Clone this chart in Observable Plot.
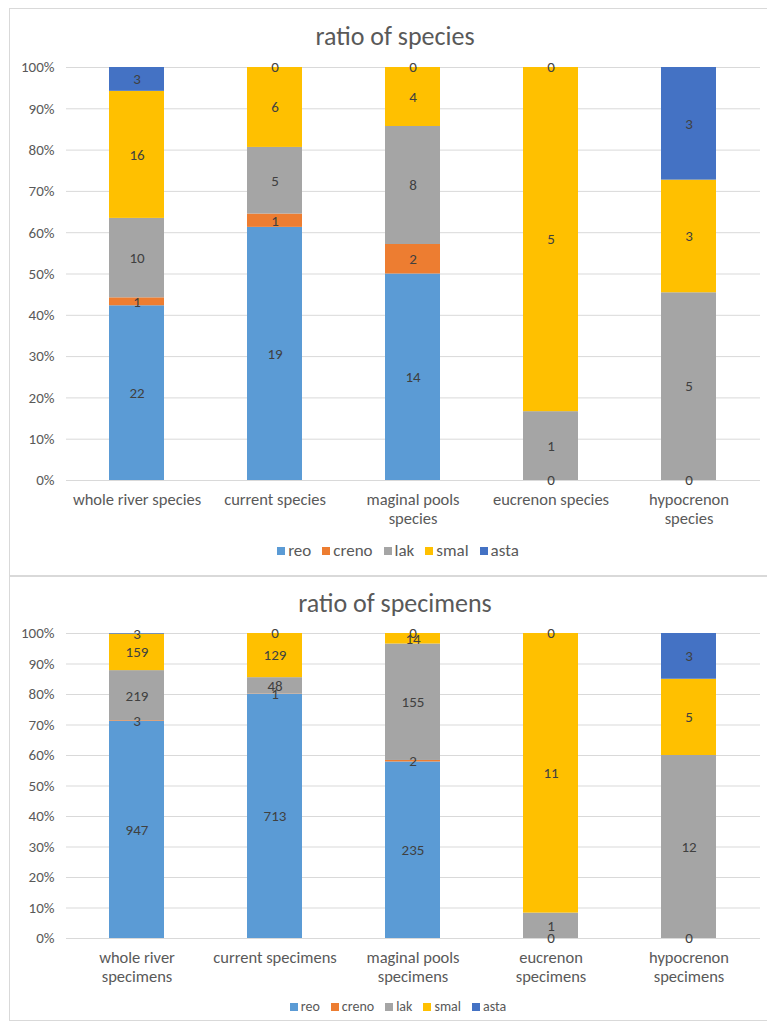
<!DOCTYPE html>
<html>
<head>
<meta charset="utf-8">
<script src="https://cdn.jsdelivr.net/npm/d3@7"></script>
<script src="https://cdn.jsdelivr.net/npm/@observablehq/plot@0.6"></script>
<style>
  html, body { margin: 0; padding: 0; background: #fff; }
  body { width: 767px; height: 1025px; overflow: hidden; position: relative;
         font-family: Carlito, "Liberation Sans", Arial, sans-serif; }
  .panel { position: absolute; border: 1px solid #D9D9D9; box-sizing: border-box; }
  .title { position: absolute; left: 0; width: 790px; text-align: center;
           color: #595959; font-size: 26px; line-height: 30px; }
  .chart { position: absolute; left: 0; }
  .legend { position: absolute; left: 0; width: 796px; display: flex; justify-content: center;
            gap: 11px; color: #595959; }
  .legend span.item { display: inline-flex; align-items: center; gap: 3px; }
  .legend span.sw { display: inline-block; width: 8px; height: 8px; }
</style>
</head>
<body>
<div class="panel" style="left:9px; top:8px; width:800px; height:568px;"></div>
<div class="panel" style="left:9px; top:576px; width:800px; height:445px;"></div>
<div class="title" style="top:21px;">ratio of species</div>
<div id="c1" class="chart" style="top:55px;"></div>
<div id="l1" class="legend" style="top:541px; font-size:17px; line-height:20px;"></div>
<div class="title" style="top:588px;">ratio of specimens</div>
<div id="c2" class="chart" style="top:620px;"></div>
<div id="l2" class="legend" style="top:998px; font-size:14px; line-height:18px;"></div>
<script>
// Series (ecological groups)
const groups = ["reo", "creno", "lak", "smal", "asta"];
const groupColors = ["#5B9BD5", "#ED7D31", "#A5A5A5", "#FFC000", "#4472C4"];

// Species chart
const speciesCategories = ["whole river species", "current species", "maginal pools species", "eucrenon species", "hypocrenon species"];
const speciesTickLabels = ["whole river species", "current species", "maginal pools\nspecies", "eucrenon species", "hypocrenon\nspecies"];
const speciesReo   = [22, 19, 14, 0, 0];
const speciesCreno = [1, 1, 2, null, null];
const speciesLak   = [10, 5, 8, 1, 5];
const speciesSmal  = [16, 6, 4, 5, 3];
const speciesAsta  = [3, 0, 0, 0, 3];

// Specimens chart
const specimenCategories = ["whole river specimens", "current specimens", "maginal pools specimens", "eucrenon specimens", "hypocrenon specimens"];
const specimenTickLabels = ["whole river\nspecimens", "current specimens", "maginal pools\nspecimens", "eucrenon\nspecimens", "hypocrenon\nspecimens"];
const specimenReo   = [947, 713, 235, 0, 0];
const specimenCreno = [3, 1, 2, null, null];
const specimenLak   = [219, 48, 155, 1, 12];
const specimenSmal  = [159, 129, 14, 11, 5];
const specimenAsta  = [3, 0, 0, 0, 3];

const pct = [0, 0.1, 0.2, 0.3, 0.4, 0.5, 0.6, 0.7, 0.8, 0.9, 1];

function rows(categories, series) {
  const out = [];
  categories.forEach((c, i) => {
    groups.forEach((g, j) => {
      const v = series[j][i];
      out.push({cat: c, group: g, value: v == null ? 0 : v, label: v == null ? "" : String(v)});
    });
  });
  return out;
}

function chart(el, categories, tickLabels, series, height, marginTop) {
  const data = rows(categories, series);
  const labelOf = new Map(categories.map((c, i) => [c, tickLabels[i]]));
  const p = Plot.plot({
    width: 767,
    height,
    marginTop,
    marginBottom: 50,
    marginLeft: 66,
    marginRight: 7,
    style: {fontFamily: 'Carlito, "Liberation Sans", Arial, sans-serif', background: "transparent"},
    x: {domain: categories, paddingInner: 0.6, paddingOuter: 0.3, label: null},
    y: {domain: [0, 1], label: null},
    color: {domain: groups, range: groupColors},
    marks: [
      Plot.gridY(pct, {stroke: "#D9D9D9", strokeOpacity: 1}),
      Plot.axisY(pct, {tickSize: 0, tickPadding: 12, tickFormat: d3.format(".0%"), fontSize: 15, fill: "#595959", label: null}),
      Plot.axisX({tickSize: 0, tickPadding: 11, tickFormat: d => labelOf.get(d), fontSize: 16.5, fill: "#595959", lineHeight: 1.15, label: null}),
      Plot.barY(data, Plot.stackY({offset: "normalize", order: null}, {x: "cat", y: "value", fill: "group"})),
      Plot.text(data, Plot.stackY({offset: "normalize", order: null}, {x: "cat", y: "value", text: "label", fill: "#404040", fontSize: 15})),
    ]
  });
  document.getElementById(el).appendChild(p);
}

function legend(el) {
  const box = document.getElementById(el);
  groups.forEach((g, i) => {
    const item = document.createElement("span");
    item.className = "item";
    const sw = document.createElement("span");
    sw.className = "sw";
    sw.style.background = groupColors[i];
    item.appendChild(sw);
    item.appendChild(document.createTextNode(g));
    box.appendChild(item);
  });
}

chart("c1", speciesCategories, speciesTickLabels,
      [speciesReo, speciesCreno, speciesLak, speciesSmal, speciesAsta], 475, 12);
legend("l1");
chart("c2", specimenCategories, specimenTickLabels,
      [specimenReo, specimenCreno, specimenLak, specimenSmal, specimenAsta], 368, 13);
legend("l2");
</script>
</body>
</html>
